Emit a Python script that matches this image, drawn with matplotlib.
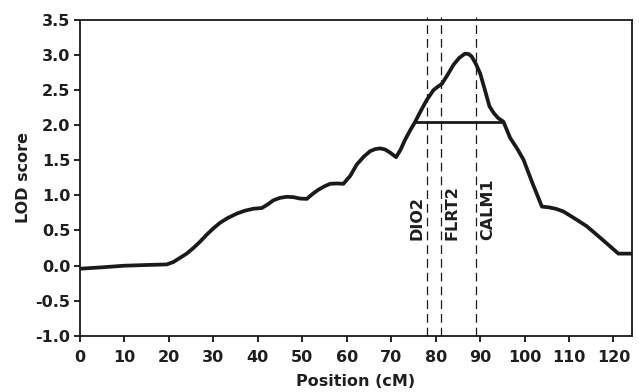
import matplotlib
matplotlib.use("Agg")
import matplotlib.pyplot as plt

# Curve data (position cM, LOD)
pos = [0, 5, 9.75, 15, 19.5, 21, 22.5, 24, 25.5, 27, 28.5, 30, 31.5, 33.3, 35.25, 37, 39, 40.9,
       42.2, 43.5, 45, 46.5, 48, 49.5, 51, 52.3, 53.6, 55, 56.25, 57.8, 59.25, 60.8, 62.25,
       63.8, 65.25, 66.4, 67.5, 68.6, 69.75, 71.1, 72.1, 73.1, 74.2, 75.4, 76.7, 78, 79.5,
       80.5, 81.4, 82.7, 84, 85.3, 86.6, 87.4, 88.1, 89, 90, 91, 92.1, 93.1, 94.1, 95.25,
       96.75, 98.3, 99.75, 101.8, 103.9, 105.4, 107, 108.75, 111.3, 114, 117.5, 121.1, 124.5]
lod = [-0.045, -0.025, -0.003, 0.008, 0.016, 0.05, 0.11, 0.17, 0.25, 0.34, 0.44, 0.53, 0.61,
       0.68, 0.74, 0.78, 0.81, 0.82, 0.87, 0.93, 0.965, 0.98, 0.975, 0.955, 0.95, 1.02,
       1.08, 1.13, 1.165, 1.17, 1.165, 1.28, 1.44, 1.55, 1.63, 1.66, 1.67, 1.655, 1.61,
       1.545, 1.65, 1.79, 1.92, 2.05, 2.21, 2.36, 2.50, 2.55, 2.59, 2.72, 2.86, 2.96, 3.02,
       3.015, 2.98, 2.88, 2.74, 2.52, 2.27, 2.17, 2.10, 2.05, 1.82, 1.67, 1.51, 1.17, 0.84,
       0.83, 0.81, 0.77, 0.67, 0.56, 0.37, 0.17, 0.17]

ci_x = [75.3, 95.1]
ci_y = 2.04

markers = ["DIO2", "FLRT2", "CALM1"]
marker_pos = [78.1, 81.2, 89.1]
marker_side = ["left", "right", "right"]

xticks = list(range(0, 121, 10))
yticks = [-1.0, -0.5, 0.0, 0.5, 1.0, 1.5, 2.0, 2.5, 3.0, 3.5]

plt.rcParams['font.family'] = ['DejaVu Sans']
plt.rcParams['font.weight'] = 'bold'

FS = 11.5
TXT = '#1e1e1e'
fig = plt.figure(figsize=(6.39, 3.92), dpi=100)
ax = fig.add_axes([0.1252, 0.1436, 0.8634, 0.8054])

ax.plot(pos, lod, color='#1a1a1a', lw=2.7, solid_joinstyle='round', solid_capstyle='butt')
ax.plot(ci_x, [ci_y, ci_y], color='#1a1a1a', lw=2.0)

for name, xm, side in zip(markers, marker_pos, marker_side):
    ax.plot([xm, xm], [-1.0, 3.54], color='#1a1a1a', lw=0.9, dashes=(7, 4), clip_on=False)
    if side == 'left':
        ax.text(xm - 0.7, 0.37, name, rotation=90, ha='right', va='bottom',
                fontsize=FS, fontweight='bold', color=TXT)
    else:
        ax.text(xm + 0.9, 0.37, name, rotation=90, ha='left', va='bottom',
                fontsize=FS, fontweight='bold', color=TXT)

ax.set_xlim(0, 124.1)
ax.set_ylim(-1.0, 3.5)
ax.set_xticks(xticks)
ax.set_yticks(yticks)
ax.set_yticklabels([f"{v:.1f}" for v in yticks])
ax.tick_params(direction='out', length=4, width=1.2, labelsize=FS, pad=3, labelcolor=TXT)
ax.tick_params(axis='x', pad=6)
for lab in ax.get_xticklabels() + ax.get_yticklabels():
    lab.set_fontweight('bold')
for sp in ax.spines.values():
    sp.set_linewidth(1.3)
    sp.set_color('#1a1a1a')

ax.set_xlabel("Position (cM)", fontsize=FS, fontweight='bold', labelpad=7, color=TXT)
ax.set_ylabel("LOD score", fontsize=FS, fontweight='bold', labelpad=3, color=TXT)

fig.savefig("out.png", dpi=100)
